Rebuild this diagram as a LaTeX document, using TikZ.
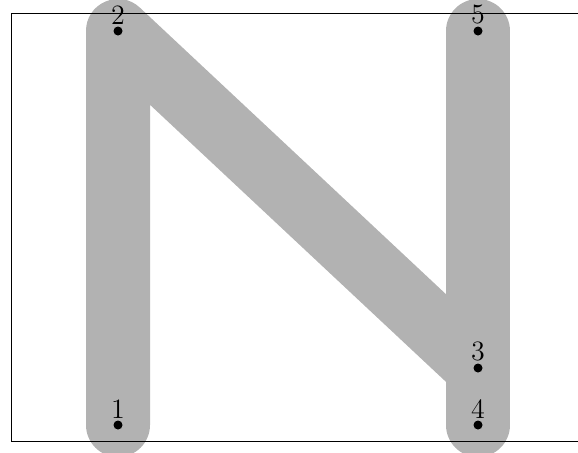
\documentclass[tikz,border=0pt]{standalone}
\usepackage{tikz}
\usetikzlibrary{positioning}

\begin{document}
\begin{tikzpicture}[
    x=1pt, y=1pt,
    stroke/.style={line width=32pt, draw=black!30, line cap=round, line join=round},
    dot/.style={circle, fill=black, inner sep=0pt, minimum size=4.5pt},
    num/.style={inner sep=0.8pt, font=\fontsize{14}{16}\selectfont}
]
\useasboundingbox (0,0) rectangle (289,226);
\clip (0,0) rectangle (289,226);
\coordinate (c1) at (59,13.5);
\coordinate (c2) at (59,210.5);
\coordinate (c3) at (239,42);
\coordinate (c4) at (239,13.5);
\coordinate (c5) at (239,210.5);
\draw[stroke] (c1) -- (c2) -- (c3);
\draw[stroke] (c4) -- (c5);
\draw[line width=0.5pt] (5.5,5.5) rectangle (300,219.5);
\foreach \i in {1,...,5} {
    \node[dot] (p\i) at (c\i) {};
    \node[num, above=0pt of p\i] (l\i) {\i};
}
\end{tikzpicture}
\end{document}
